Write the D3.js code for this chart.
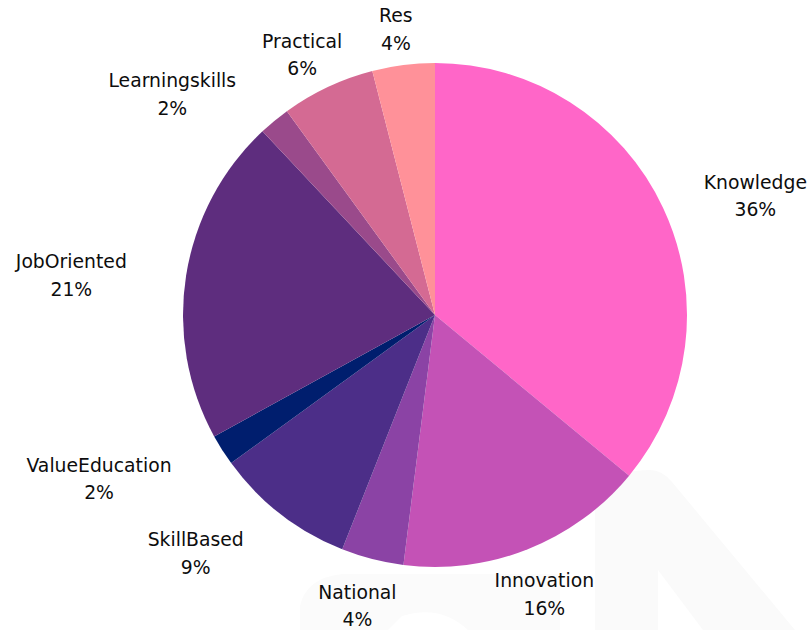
<!DOCTYPE html>
<html>
<head>
<meta charset="utf-8">
<script src="https://cdn.jsdelivr.net/npm/d3@7"></script>
<style>
  html, body { margin: 0; padding: 0; background: #ffffff; }
  svg { display: block; }
</style>
</head>
<body>
<svg id="chart" width="809" height="630"></svg>
<script>
// ---- data ----
const categories = ["Knowledge", "Innovation", "National", "SkillBased", "ValueEducation",
                    "JobOriented", "Learningskills", "Practical", "Res"];
const values = [36, 16, 4, 9, 2, 21, 2, 6, 4];
const colors = ["#FF66C8", "#C452B6", "#8B43A5", "#4C2E88", "#001E6E",
                "#5E2D7E", "#9A4A8B", "#D46A93", "#FF9199"];

// ---- layout ----
const W = 809, H = 630;
const cx = 435, cy = 315, r = 252;
const labelAxRight = 297, labelAxLeft = 312, labelBy = 294;

const svg = d3.select("#chart");

// faint background watermark shapes
svg.append("path")
  .attr("d", "M595,630 L595,510 Q597,470 650,470 Q662,470 672,482 L795,630 L703,630 L658,570 L658,630 Z")
  .attr("fill", "#fafafa");
svg.append("path")
  .attr("d", "M300,630 L300,606 Q306,578 342,574 L560,574 L560,630 L468,630 Q440,604 402,616 L388,630 Z")
  .attr("fill", "#fbfbfb");

const total = d3.sum(values);
const data = categories.map((c, i) => ({ name: c, value: values[i], color: colors[i] }));

const pie = d3.pie().value(d => d.value).sort(null)
  .startAngle(0).endAngle(2 * Math.PI);
const arcs = pie(data);
const arc = d3.arc().innerRadius(0).outerRadius(r);

const g = svg.append("g").attr("transform", `translate(${cx},${cy})`);
g.selectAll("path.slice")
  .data(arcs)
  .enter().append("path")
  .attr("class", "slice")
  .attr("d", arc)
  .attr("fill", d => d.data.color);

// labels
const fmt = d => Math.round(d.value / total * 100) + "%";
const lg = svg.append("g")
  .attr("font-family", "'DejaVu Sans', sans-serif")
  .attr("font-size", "18.8px")
  .attr("fill", "#0d0d0d");

arcs.forEach(a => {
  const m = (a.startAngle + a.endAngle) / 2;
  const ux = Math.sin(m), uy = -Math.cos(m);
  const ax = cx + (ux >= 0 ? labelAxRight : labelAxLeft) * ux;
  const ay = cy + labelBy * uy;
  const yc = ay + 6;
  const t = lg.append("text").attr("text-anchor", "middle");
  const t1 = t.append("tspan").attr("y", yc - 7).text(a.data.name);
  const t2 = t.append("tspan").attr("y", yc + 20.5).text(fmt(a.data));
  const w = Math.max(t1.node().getComputedTextLength(), t2.node().getComputedTextLength());
  let x;
  if (Math.abs(labelBy * uy) > r + 4) {
    x = ax;
  } else if (ux >= 0) {
    x = ax + w / 2;
  } else {
    x = ax - w / 2;
  }
  t1.attr("x", x);
  t2.attr("x", x);
});
</script>
</body>
</html>
